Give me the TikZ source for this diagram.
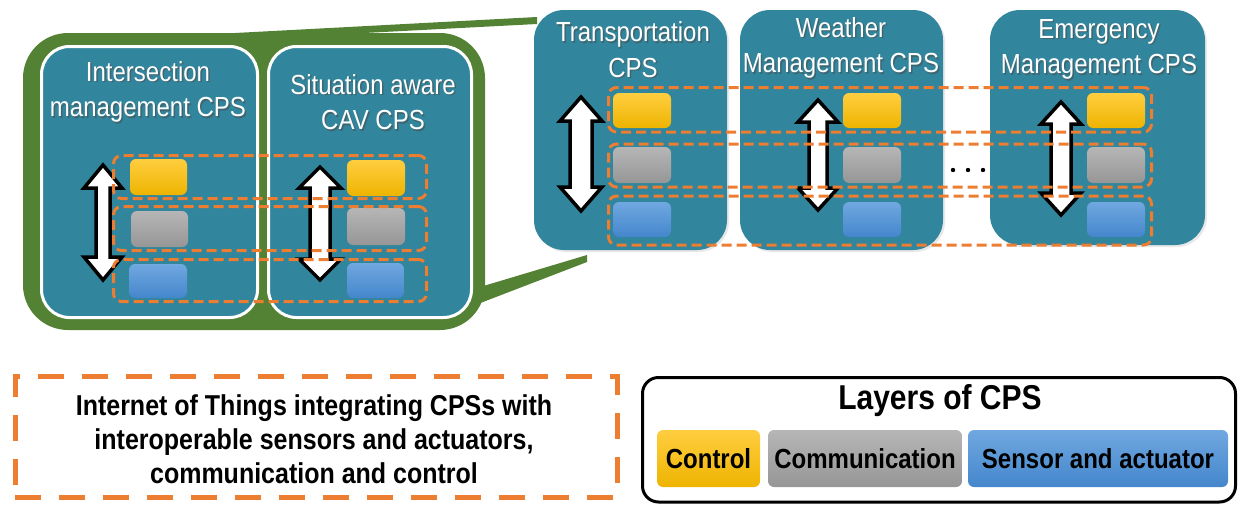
\documentclass[tikz,border=0pt]{standalone}
\usepackage{fontspec}
\setmainfont{Liberation Sans}
\usetikzlibrary{fit,calc,shadows}

\definecolor{cpsteal}{RGB}{49,133,156}
\definecolor{cpsgreen}{RGB}{84,130,53}
\definecolor{iotorange}{RGB}{237,125,49}
\definecolor{ctrltop}{RGB}{255,206,64}
\definecolor{ctrlbot}{RGB}{238,180,0}
\definecolor{commtop}{RGB}{182,182,182}
\definecolor{commbot}{RGB}{150,150,150}
\definecolor{senstop}{RGB}{112,168,224}
\definecolor{sensbot}{RGB}{68,134,204}

\newcommand\titlefont{\fontsize{24}{31}\selectfont}
\newcommand\iotfont{\bfseries\fontsize{25}{29.5}\selectfont}

% white title with a soft dark shadow
\newcommand\cpstitle[3]{%
  \node[tall, text=black!70, opacity=0.55, align=center, font=\titlefont] at ($(#2)+(1.5,1.5)$) {#3};
  \node[tall, text=white, align=center, font=\titlefont] (#1) at (#2) {#3};}

% vertical double block arrow: x, top, bottom, head half width, shaft half width, head length
\newcommand\udarrow[6]{%
  \draw[blockarrow] (#1,#2) -- (#1+#4,#2+#6) -- (#1+#5,#2+#6) -- (#1+#5,#3-#6)
    -- (#1+#4,#3-#6) -- (#1,#3) -- (#1-#4,#3-#6) -- (#1-#5,#3-#6)
    -- (#1-#5,#2+#6) -- (#1-#4,#2+#6) -- cycle;}

\begin{document}
\begin{tikzpicture}[x=1pt,y=-1pt,
  tall/.style={yscale=1.15, transform shape},
  box/.style={inner sep=0pt},
  frame/.style={box, fill=cpsgreen, rounded corners=45pt},
  cpsbox/.style={box, draw=white, line width=3pt, fill=cpsteal, rounded corners=28pt},
  sysbox/.style={box, fill=cpsteal, rounded corners=30pt,
    drop shadow={opacity=0.18, shadow xshift=2pt, shadow yshift=-2pt}},
  layerrow/.style={box, draw=iotorange, line width=3pt, dash pattern=on 10pt off 5pt, rounded corners=8pt},
  ctrl/.style={box, rounded corners=6pt, top color=ctrltop, bottom color=ctrlbot},
  comm/.style={box, rounded corners=6pt, top color=commtop, bottom color=commbot},
  sens/.style={box, rounded corners=6pt, top color=senstop, bottom color=sensbot},
  blockarrow/.style={draw=black, fill=white, line width=3.5pt, line join=miter},
  iotbox/.style={box, draw=iotorange, line width=5pt, dash pattern=on 26pt off 18pt},
  legendbox/.style={box, draw=black, line width=3pt, rounded corners=16pt},
  swatchlabel/.style={tall, font=\bfseries\fontsize{24}{28}\selectfont, text=black}
]
\useasboundingbox (0,0) rectangle (1243,506);

% ---- green zoom frame with callout wedges ----
\fill[cpsgreen] (235,33) -- (537,17) -- (537,24) -- (345,34) -- cycle;
\fill[cpsgreen] (470,290) -- (587,255) -- (587,262) -- (470,307) -- cycle;
\node[frame, fit={(23,33) (485,330)}] (zoomframe) {};

% ---- local CPSs ----
\node[cpsbox, fit={(41.5,46.5) (257.5,317.5)}] (ims) {};
\node[cpsbox, fit={(268.5,46.5) (471.5,317.5)}] (cav) {};
\cpstitle{imstitle}{148,92}{Intersection\\management CPS}
\cpstitle{cavtitle}{373,102}{Situation aware\\CAV CPS}

% ---- city-level CPSs ----
\node[sysbox, fit={(534,10) (727,250)}] (trans) {};
\node[sysbox, fit={(740,10) (943,250)}] (weather) {};
\node[sysbox, fit={(990,10) (1205,245)}] (emerg) {};
\cpstitle{transtitle}{633,49.5}{Transportation\\CPS}
\cpstitle{weathertitle}{841,48}{Weather\\Management CPS}
\cpstitle{emergtitle}{1099,49.5}{Emergency\\Management CPS}

% ---- layer blocks ----
\node[ctrl, fit={(130,159) (187,195)}] (imsC) {};
\node[comm, fit={(131,211) (188,247)}] (imsM) {};
\node[sens, fit={(129,264) (187,298)}] (imsS) {};
\node[ctrl, fit={(347,160) (405,196)}] (cavC) {};
\node[comm, fit={(347,208) (405,245)}] (cavM) {};
\node[sens, fit={(347,263) (404,298)}] (cavS) {};
\foreach \n/\x in {trans/613, weather/843, emerg/1087} {
  \node[ctrl, fit={(\x,93) (\x+58,128)}] (\n C) {};
  \node[comm, fit={(\x,147) (\x+58,183)}] (\n M) {};
  \node[sens, fit={(\x,202) (\x+58,237)}] (\n S) {};
}

% ---- vertical data flow arrows ----
\udarrow{103}{165}{280}{19}{7}{23}
\udarrow{320}{167}{280}{21}{10}{21}
\udarrow{581}{97}{211}{21}{11}{24}
\udarrow{818}{100}{210}{20}{9}{22}
\udarrow{1061}{102}{215}{20}{10}{22}

% ---- ellipsis between city CPSs ----
\foreach \x in {953,968,983} \fill (\x,170) circle (2.2pt);

% ---- shared layers across CPSs ----
\node[layerrow, fit={(113.5,155.5) (426.5,198.5)}] (rowCl) {};
\node[layerrow, fit={(113.5,206.5) (426.5,250.5)}] (rowMl) {};
\node[layerrow, fit={(113.5,259.5) (426.5,301.5)}] (rowSl) {};
\node[layerrow, fit={(608.5,87.5) (1151.5,132)}] (rowCr) {};
\node[layerrow, fit={(608.5,144) (1151.5,187)}] (rowMr) {};
\node[layerrow, fit={(608.5,196) (1151.5,245)}] (rowSr) {};

% ---- IoT caption ----
\node[iotbox, fit={(15,376) (617,497)}] (iot) {};
\node[tall, align=center, font=\iotfont] (iottext) at (314,439)
  {Internet of Things integrating CPSs with\\interoperable sensors and actuators,\\communication and control};

% ---- legend ----
\node[legendbox, fit={(642.5,377.5) (1235.5,502)}] (legend) {};
\node[tall, font=\bfseries\fontsize{30}{36}\selectfont] (legendtitle) at (940,401) {Layers of CPS};
\node[ctrl, fit={(657,430) (760,487)}] (swC) {};
\node[comm, fit={(768,430) (962,487)}] (swM) {};
\node[sens, fit={(968,430) (1228,487)}] (swS) {};
\node[swatchlabel] at (swC.center) {Control};
\node[swatchlabel] at (swM.center) {Communication};
\node[swatchlabel] at (swS.center) {Sensor and actuator};
\end{tikzpicture}
\end{document}
